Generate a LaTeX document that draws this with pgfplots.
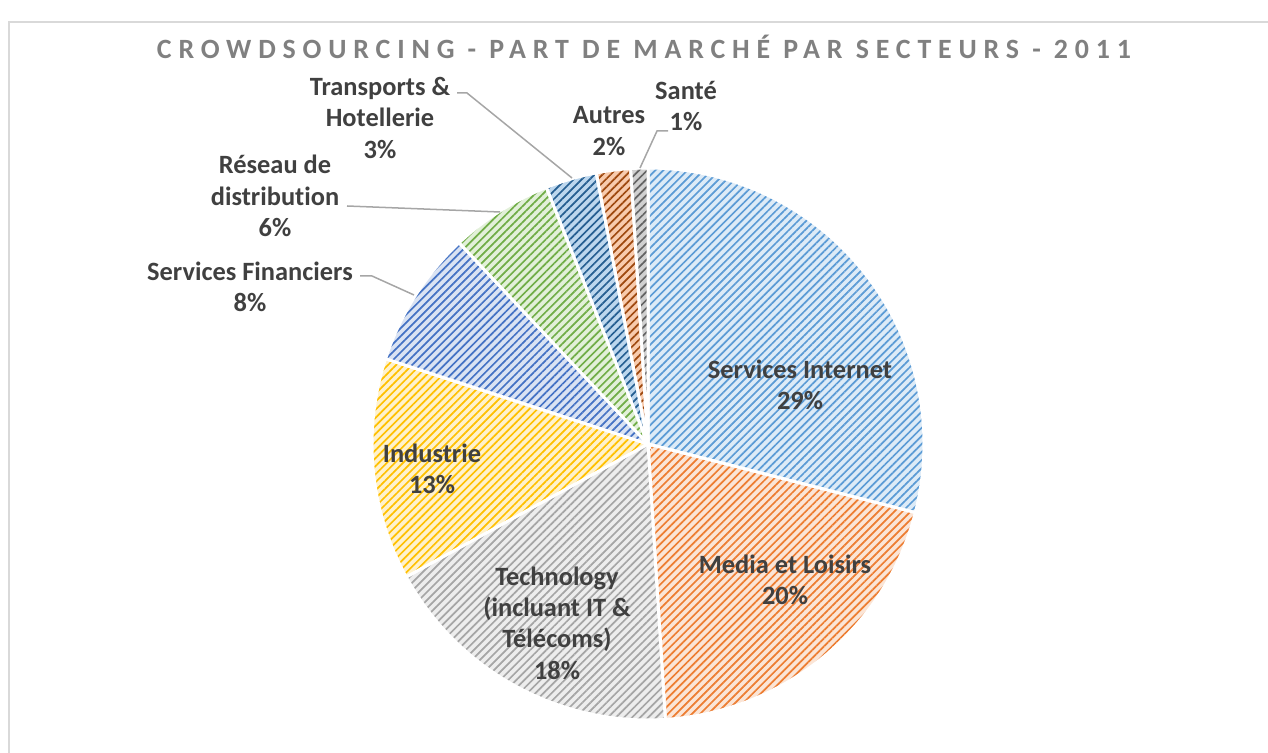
\documentclass[border=0pt]{standalone}
\usepackage{pgfplots}
\pgfplotsset{compat=1.18}
\usepackage{fontspec}
\setmainfont{Carlito}[Ligatures={NoCommon}]
\newfontfamily\titlefont[LetterSpace=24.5,Ligatures={NoCommon}]{Carlito}
\usetikzlibrary{patterns.meta}
\definecolor{bgA}{HTML}{DDEBF7}\definecolor{fgA}{HTML}{5B9BD5}
\definecolor{bgB}{HTML}{FBE5D6}\definecolor{fgB}{HTML}{ED7D31}
\definecolor{bgC}{HTML}{EDEDED}\definecolor{fgC}{HTML}{A5A5A5}
\definecolor{bgD}{HTML}{FFF2CC}\definecolor{fgD}{HTML}{FFC000}
\definecolor{bgE}{HTML}{DAE3F3}\definecolor{fgE}{HTML}{4472C4}
\definecolor{bgF}{HTML}{E2F0D9}\definecolor{fgF}{HTML}{70AD47}
\definecolor{bgG}{HTML}{BDD7EE}\definecolor{fgG}{HTML}{255E91}
\definecolor{bgH}{HTML}{F8CBAD}\definecolor{fgH}{HTML}{9E480E}
\definecolor{bgI}{HTML}{D0D0D0}\definecolor{fgI}{HTML}{636363}
\definecolor{lbl}{HTML}{404040}
\definecolor{ttl}{HTML}{808080}
\definecolor{frame}{HTML}{D9D9D9}
\definecolor{leader}{HTML}{A6A6A6}
\begin{document}
\begin{tikzpicture}
\begin{axis}[width=1268bp,height=753bp,scale only axis,
  xmin=0,xmax=1268,ymin=0,ymax=753,hide axis,clip=false]
% frame
\draw[frame,line width=2.5bp] (axis cs:9,0) -- (axis cs:9,731) -- (axis cs:1268,731);
% title
\node[ttl,font={\titlefont\bfseries\fontsize{28}{33}\selectfont}] at (axis cs:644,706) {CROWDSOURCING - PART DE MARCHÉ PAR SECTEURS - 2011};
% wedges
\xdef\cum{0}
\foreach \v/\bg/\fg in {29/bgA/fgA,20/bgB/fgB,18/bgC/fgC,13/bgD/fgD,8/bgE/fgE,6/bgF/fgF,3/bgG/fgG,2/bgH/fgH,1/bgI/fgI}{
  \pgfmathsetmacro\sa{90-3.6*\cum}
  \pgfmathsetmacro\ea{90-3.6*(\cum+\v)}
  \edef\temp{\noexpand\fill[fill=\bg,postaction={pattern={Lines[angle=45,distance=5.7bp,line width=1.7bp]},pattern color=\fg},postaction={draw=white,line width=3bp}] (axis cs:648,309) -- ++(\sa:276bp) arc[start angle=\sa,end angle=\ea,radius=276bp] -- cycle;}
  \temp
  \pgfmathsetmacro\nc{\cum+\v}
  \xdef\cum{\nc}
}
% leader lines
\draw[leader,line width=1.5bp] (axis cs:360,477) -- (axis cs:372,477) -- (axis cs:414,458);
\draw[leader,line width=1.5bp] (axis cs:347,547) -- (axis cs:500,541);
\draw[leader,line width=1.5bp] (axis cs:457,660) -- (axis cs:467,660) -- (axis cs:572,575);
\draw[leader,line width=1.5bp] (axis cs:668,622) -- (axis cs:657,622) -- (axis cs:640,585);
% labels
\begin{scope}[every node/.style={lbl,align=center,font={\bfseries\fontsize{26.5}{31.5}\selectfont}}]
\node at (axis cs:800,368) {Services Internet\\29\%};
\node at (axis cs:785,173) {Media et Loisirs\\20\%};
\node at (axis cs:557,130) {Technology\\(incluant IT \&\\Télécoms)\\18\%};
\node at (axis cs:432,284) {Industrie\\13\%};
\node at (axis cs:250,466) {Services Financiers\\8\%};
\node at (axis cs:275,557) {Réseau de\\distribution\\6\%};
\node at (axis cs:380,635) {Transports \&\\Hotellerie\\3\%};
\node at (axis cs:609,622) {Autres\\2\%};
\node at (axis cs:686,647) {Santé\\1\%};
\end{scope}
\end{axis}
\pgfresetboundingbox
\path (current axis.south west) rectangle (current axis.north east);
\end{tikzpicture}
\end{document}
